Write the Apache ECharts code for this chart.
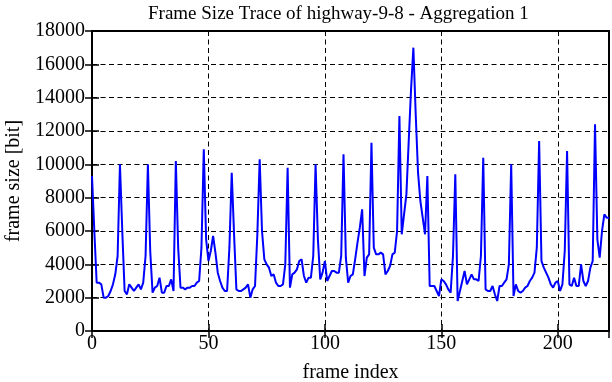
<!DOCTYPE html>
<html>
<head>
<meta charset="utf-8">
<script src="https://cdn.jsdelivr.net/npm/echarts@6/dist/echarts.min.js"></script>
<style>
html,body{margin:0;padding:0;background:#fff;}
#chart{width:612px;height:382px;}
</style>
</head>
<body>
<div id="chart"></div>
<script>
// Frame sizes (bits) for frames 0..222
var frameSizes = [
  9300, 6000, 2900, 2900, 2800, 2000, 2000, 2100, 2400, 2800, 3400, 4500,
  10000, 6000, 2400, 2200, 2800, 2600, 2400, 2600, 2800, 2500, 2900, 4500,
  10000, 4800, 2300, 2600, 2700, 3200, 2300, 2300, 2700, 2700, 3100, 2400,
  10200, 5000, 2600, 2600, 2500, 2600, 2600, 2700, 2700, 2900, 3000, 5000,
  10900, 5500, 4200, 4800, 5700, 4700, 3500, 3000, 2600, 2400, 2400, 5000,
  9500, 5800, 2500, 2400, 2400, 2500, 2600, 2800, 2000, 2500, 2700, 5800,
  10300, 6000, 4300, 4000, 3800, 3300, 3400, 2900, 2700, 2700, 2800, 4000,
  9800, 2600, 3400, 3500, 3700, 4200, 4300, 3300, 2900, 3200, 3200, 4500,
  10000, 5500, 3100, 3500, 4200, 3000, 3300, 3600, 3600, 3500, 3500, 4500,
  10600, 4400, 2900, 3300, 3400, 4300, 5300, 6200, 7300, 3300, 4400, 4600,
  11300, 5000, 4600, 4600, 4700, 4600, 3400, 3600, 3900, 4600, 4700, 6000,
  12900, 5800, 7000, 8200, 11400, 14500, 17000, 13000, 9500, 7800, 6800, 5800,
  9300, 2700, 2700, 2700, 2400, 2100, 3100, 3000, 2800, 2500, 2300, 4500,
  9400, 1800, 2400, 3000, 3600, 2800, 3100, 3400, 3100, 3100, 3000, 4500,
  10400, 2500, 2400, 2400, 2700, 2200, 1800, 2700, 2700, 2900, 3100, 4000,
  10000, 2100, 2800, 2400, 2300, 2400, 2600, 2700, 3000, 3200, 3500, 5000,
  11400, 4200, 3800, 3500, 3200, 2800, 2600, 2900, 3000, 2400, 2800, 4800,
  10800, 2800, 2700, 3200, 2700, 2700, 4000, 3000, 2700, 3000, 3800, 4200,
  12400, 5500, 4400, 6000, 7000, 6800, 6800
];
var titleText = 'Frame Size Trace of highway-9-8 - Aggregation 1';
var xName = 'frame index';
var yName = 'frame size [bit]';
var xMax = 222;
var yMax = 18000;

var seriesData = frameSizes.map(function (v, i) { return [i, v]; });
var font = 'Liberation Serif';
var fs = 20;
var chart = echarts.init(document.getElementById('chart'), null, {renderer: 'canvas'});
var tickStyle = {show: true, inside: true, length: 7, lineStyle: {color: '#000', width: 1.5}};
var dashed = {show: true, lineStyle: {color: '#000', width: 1, type: [5, 3.5]}};
chart.setOption({
  animation: false,
  backgroundColor: '#fff',
  title: {
    text: titleText, left: 143, top: 0,
    textStyle: {fontFamily: font, fontSize: 19, fontWeight: 'normal', color: '#000'}
  },
  grid: {left: 92, right: 3, top: 31, bottom: 51, show: true, borderColor: '#000', borderWidth: 2,
    containLabel: false, outerBoundsMode: 'none'},
  xAxis: [{
    type: 'value', min: 0, max: xMax, interval: 50,
    name: xName, nameLocation: 'middle', nameGap: 32,
    nameTextStyle: {fontFamily: font, fontSize: fs, color: '#000'},
    axisLine: {show: false},
    axisTick: tickStyle,
    axisLabel: {fontFamily: font, fontSize: fs, color: '#000', margin: 3, showMaxLabel: false,
      formatter: function (v) { return v % 50 === 0 ? String(v) : ''; }},
    splitLine: dashed
  }, {
    type: 'value', min: 0, max: xMax, interval: 50, position: 'top',
    axisLine: {show: false}, axisTick: tickStyle, axisLabel: {show: false}, splitLine: {show: false}
  }],
  yAxis: [{
    type: 'value', min: 0, max: yMax, interval: 2000,
    name: yName, nameLocation: 'middle', nameGap: 68, nameRotate: 90,
    nameTextStyle: {fontFamily: font, fontSize: fs, color: '#000'},
    axisLine: {show: false},
    axisTick: tickStyle,
    axisLabel: {fontFamily: font, fontSize: fs, color: '#000', margin: 7,
      formatter: function (v) { return String(v); }},
    splitLine: dashed
  }, {
    type: 'value', min: 0, max: yMax, interval: 2000, position: 'right',
    axisLine: {show: false}, axisTick: tickStyle, axisLabel: {show: false}, splitLine: {show: false}
  }],
  series: [{
    type: 'line', data: seriesData, showSymbol: false, symbol: 'none',
    lineStyle: {color: '#0000ff', width: 2}, clip: true
  }]
});
</script>
</body>
</html>
